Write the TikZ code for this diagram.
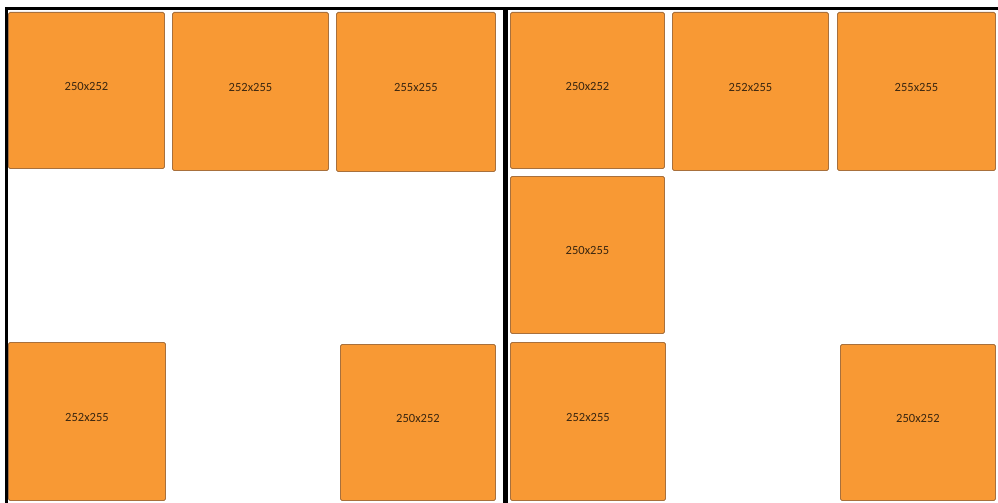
\documentclass[tikz,border=0pt]{standalone}
\usepackage{fontspec}
\setmainfont{Carlito}
\usepackage{tikz}
\definecolor{tileorange}{RGB}{248,153,52}
\definecolor{tileedge}{RGB}{168,112,60}
\definecolor{tiletext}{RGB}{58,38,16}
\tikzset{
  tile/.style={draw=tileedge,fill=tileorange,line width=0.9pt,rounded corners=1.5pt,
    inner sep=0pt,anchor=north west,text depth=9pt,text=tiletext,
    font=\fontsize{12.5}{13}\selectfont},
  frame/.style={line width=#1,black}
}

\begin{document}
\begin{tikzpicture}[x=1pt,y=-1pt]
 \useasboundingbox (0,0) rectangle (998,503);
 % the tiles: name/left/top/width/height/size
 \foreach \nm/\x/\y/\w/\h/\sz in {
   a/8/12/156/156/250x252, b/172/12/156/158/252x255, c/336/12/159/159/255x255,
   d/510/12/154/156/250x252, e/672/12/156/158/252x255, f/837/12/158/158/255x255,
   g/510/176/154/157/250x255,
   h/8/342/157/158/252x255, i/340/344/155/156/250x252,
   j/510/342/155/158/252x255, k/840/344/155/156/250x252}
  { \node[tile,minimum width=\w,minimum height=\h] (\nm) at (\x,\y) {\sz}; }
 % panel borders
 \coordinate (tl) at (6.5,8.5); \coordinate (tr) at (998,8.5);
 \coordinate (bl) at (6.5,503); \coordinate (mt) at (505.5,8.5); \coordinate (mb) at (505.5,503);
 \draw[frame=3pt] (bl) -- (tl) -- (tr);
 \draw[frame=4.5pt] (mt) -- (mb);
\end{tikzpicture}
\end{document}
